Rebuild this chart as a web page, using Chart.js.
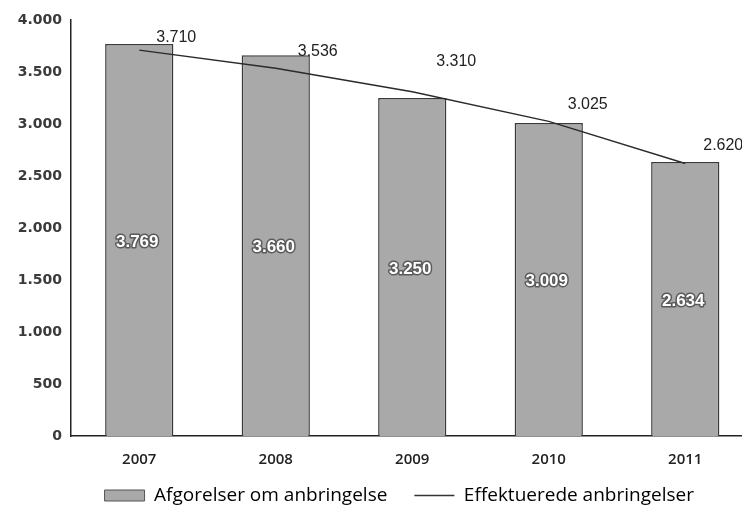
<!DOCTYPE html>
<html>
<head>
<meta charset="utf-8">
<script src="https://cdn.jsdelivr.net/npm/chart.js@4.4.1/dist/chart.umd.min.js"></script>
<style>
  html, body { margin: 0; padding: 0; background: #fff; overflow: hidden; width: 742px; height: 506px; }
  canvas { display: block; }
</style>
</head>
<body>
<canvas id="c" width="760" height="506"></canvas>
<script>
// Anbringelser 2007-2011
const years = ['2007', '2008', '2009', '2010', '2011'];
const afgorelser = [3769, 3660, 3250, 3009, 2634];
const effektuerede = [3710, 3536, 3310, 3025, 2620];
const seriesNames = ['Afgorelser om anbringelse', 'Effektuerede anbringelser'];
const yTickValues = [0, 500, 1000, 1500, 2000, 2500, 3000, 3500, 4000];

// where each line label sits relative to its point (px)
const lineLabelShift = [[37, -13], [42, -17], [44, -30], [39, -17], [38, -18]];

const fmt = v => String(v).replace(/\B(?=(\d{3})+(?!\d))/g, '.');

const LEGEND_GAP = 27;

const valueLabels = {
  id: 'valueLabels',
  afterDatasetsDraw(chart) {
    const ctx = chart.ctx;
    ctx.save();
    ctx.textAlign = 'center';
    ctx.textBaseline = 'middle';
    ctx.lineJoin = 'round';

    // values inside the bars: white with a dark outline
    ctx.font = 'bold 17px "Liberation Sans", Arial, sans-serif';
    chart.getDatasetMeta(0).data.forEach((bar, i) => {
      const y = (bar.y + bar.base) / 2 + 2;
      const txt = fmt(afgorelser[i]);
      ctx.lineWidth = 3;
      ctx.strokeStyle = '#5a5a5a';
      ctx.strokeText(txt, bar.x - 2, y);
      ctx.fillStyle = '#fff';
      ctx.fillText(txt, bar.x - 2, y);
    });

    // values next to the line points
    ctx.font = '16px "Liberation Sans", Arial, sans-serif';
    ctx.fillStyle = '#222';
    chart.getDatasetMeta(1).data.forEach((pt, i) => {
      const [dx, dy] = lineLabelShift[i];
      ctx.fillText(fmt(effektuerede[i]), pt.x + dx, pt.y + dy);
    });
    ctx.restore();
  }
};

// keep the legend row close under the axis and centred under the plot
const legendPlacement = {
  id: 'legendPlacement',
  afterLayout(chart) {
    const lg = chart.legend;
    if (!lg) return;
    lg.left = chart.chartArea.left - 26;
    lg.width = lg.right - lg.left;
    lg.top -= LEGEND_GAP - 2;
  }
};

new Chart(document.getElementById('c'), {
  data: {
    labels: years,
    datasets: [
      {
        type: 'bar',
        label: seriesNames[0],
        data: afgorelser,
        backgroundColor: '#a9a9a9',
        borderColor: '#3a3a3a',
        borderWidth: 1.5,
        categoryPercentage: 1,
        barPercentage: 0.5,
        order: 1
      },
      {
        type: 'line',
        label: seriesNames[1],
        data: effektuerede,
        borderColor: '#2a2a2a',
        borderWidth: 1.4,
        pointRadius: 0,
        tension: 0,
        fill: false,
        order: 0
      }
    ]
  },
  options: {
    responsive: false,
    animation: false,
    devicePixelRatio: 1,
    layout: { padding: { left: 0, right: 6.5, top: 20, bottom: 0 } },
    plugins: {
      tooltip: { enabled: false },
      legend: {
        position: 'bottom',
        maxHeight: 22,
        labels: {
          color: '#222',
          font: { family: 'Open Sans', size: 19 },
          usePointStyle: true,
          pointStyleWidth: 40,
          boxHeight: 11,
          padding: LEGEND_GAP,
          generateLabels: chart => [
            {
              text: chart.data.datasets[0].label,
              fillStyle: '#a9a9a9', strokeStyle: '#555', lineWidth: 1,
              pointStyle: 'rect', datasetIndex: 0, hidden: false
            },
            {
              text: chart.data.datasets[1].label,
              fillStyle: '#333', strokeStyle: '#333', lineWidth: 1.3,
              pointStyle: 'line', datasetIndex: 1, hidden: false
            }
          ]
        }
      }
    },
    scales: {
      x: {
        grid: { display: false, drawTicks: false },
        border: { display: true, color: '#222', width: 1.5 },
        ticks: { color: '#222', font: { family: 'Open Sans', size: 15, weight: '600' }, padding: 15 }
      },
      y: {
        min: 0,
        max: 4000,
        afterFit(scale) { scale.width = 71; },
        afterBuildTicks(scale) { scale.ticks = yTickValues.map(v => ({ value: v })); },
        grid: { display: false, drawTicks: false },
        border: { display: true, color: '#222', width: 1.5 },
        ticks: {
          color: '#3a3a3a',
          font: { family: 'DejaVu Sans', size: 14, weight: 'bold' },
          padding: 9,
          callback: v => fmt(v)
        }
      }
    }
  },
  plugins: [valueLabels, legendPlacement]
});
</script>
</body>
</html>
